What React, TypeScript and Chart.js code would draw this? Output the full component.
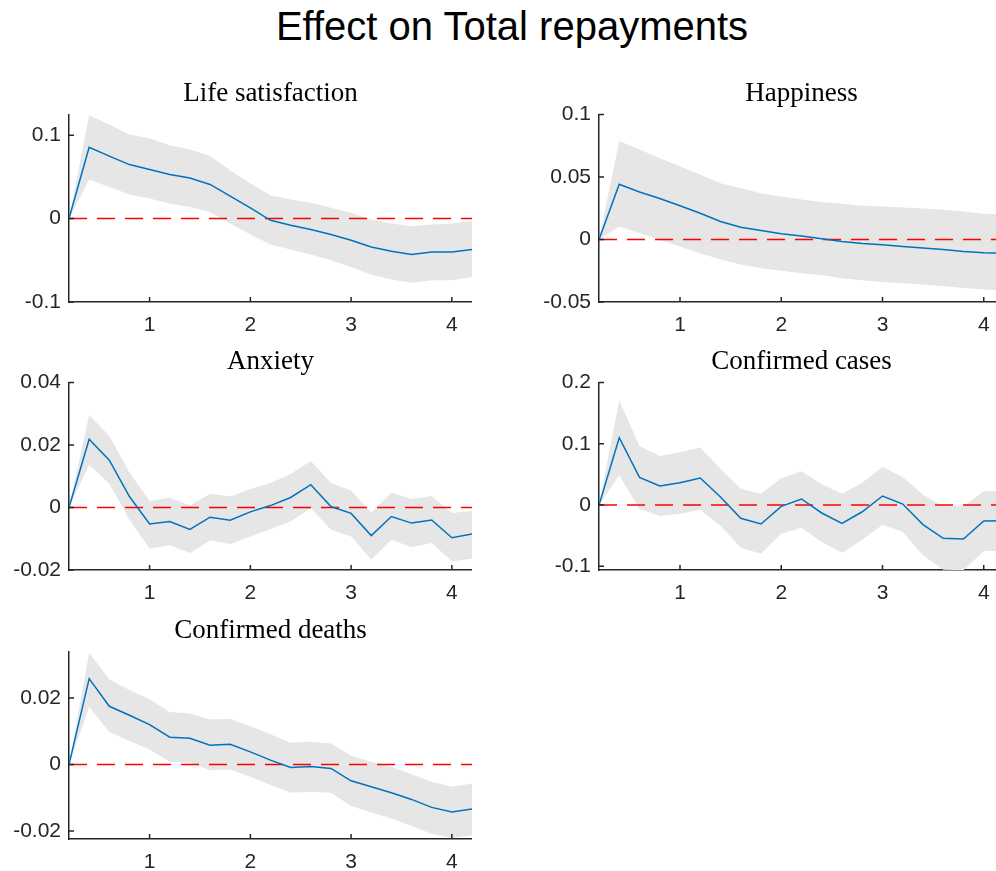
import React, { useEffect, useRef } from "react";
import { Chart, registerables } from "chart.js";

Chart.register(...registerables);

const FIG_TITLE = "Effect on Total repayments";

const periods = [0.2, 0.4, 0.6, 0.8, 1.0, 1.2, 1.4, 1.6, 1.8, 2.0, 2.2, 2.4, 2.6, 2.8, 3.0, 3.2, 3.4, 3.6, 3.8, 4.0, 4.2];
const xTicks = [1, 2, 3, 4];

const lifeSatIrf = [0, 0.0856, 0.075, 0.0648, 0.0588, 0.0528, 0.0488, 0.041, 0.027, 0.013, -0.002, -0.008, -0.013, -0.019, -0.026, -0.034, -0.039, -0.043, -0.040, -0.040, -0.037];
const lifeSatUpper = [0, 0.124, 0.113, 0.101, 0.096, 0.088, 0.083, 0.075, 0.058, 0.042, 0.028, 0.023, 0.019, 0.013, 0.007, -0.001, -0.006, -0.009, -0.007, -0.006, -0.003];
const lifeSatLower = [0, 0.047, 0.038, 0.029, 0.024, 0.018, 0.014, 0.008, -0.006, -0.019, -0.031, -0.037, -0.043, -0.050, -0.058, -0.067, -0.073, -0.077, -0.074, -0.074, -0.070];
const lifeSatTicks = [-0.1, 0, 0.1];

const happinessIrf = [0, 0.0441, 0.038, 0.0327, 0.0269, 0.021, 0.0144, 0.0098, 0.0072, 0.0045, 0.0027, 0.0005, -0.0016, -0.0032, -0.0043, -0.0056, -0.0069, -0.008, -0.0096, -0.0106, -0.011];
const happinessUpper = [0, 0.0787, 0.072, 0.065, 0.0585, 0.052, 0.045, 0.041, 0.037, 0.0343, 0.032, 0.030, 0.0285, 0.027, 0.0263, 0.0255, 0.0247, 0.0237, 0.0223, 0.0205, 0.02];
const happinessLower = [0, 0.0104, 0.005, -0.0003, -0.0056, -0.011, -0.016, -0.020, -0.023, -0.025, -0.027, -0.0287, -0.031, -0.0327, -0.034, -0.035, -0.036, -0.0375, -0.0388, -0.040, -0.041];
const happinessTicks = [-0.05, 0, 0.05, 0.1];

const anxietyIrf = [0, 0.0218, 0.0151, 0.0035, -0.0053, -0.0045, -0.007, -0.0031, -0.0041, -0.0014, 0.0006, 0.0032, 0.0073, 0.0003, -0.0019, -0.009, -0.0029, -0.005, -0.004, -0.0097, -0.0085];
const anxietyUpper = [0, 0.0296, 0.0229, 0.0112, 0.0021, 0.0031, 0.0007, 0.0044, 0.0035, 0.0059, 0.0078, 0.0107, 0.0149, 0.0078, 0.0054, -0.0016, 0.0047, 0.0027, 0.0037, -0.0018, -0.0011];
const anxietyLower = [0, 0.0137, 0.0076, -0.0039, -0.0131, -0.0121, -0.0146, -0.0106, -0.0117, -0.0093, -0.0069, -0.0045, -0.0002, -0.0071, -0.0093, -0.0167, -0.0103, -0.0127, -0.0114, -0.0172, -0.0164];
const anxietyTicks = [-0.02, 0, 0.02, 0.04];

const casesIrf = [0, 0.1098, 0.0451, 0.031, 0.0364, 0.044, 0.013, -0.0217, -0.031, -0.0022, 0.0098, -0.013, -0.030, -0.011, 0.0147, 0.0016, -0.032, -0.0543, -0.0554, -0.026, -0.0255];
const casesUpper = [0, 0.1707, 0.0957, 0.080, 0.0859, 0.094, 0.059, 0.0266, 0.0185, 0.0435, 0.055, 0.0337, 0.0185, 0.0364, 0.062, 0.0457, 0.0168, -0.0016, -0.0016, 0.0223, 0.0223];
const casesLower = [0, 0.0484, -0.0065, -0.018, -0.0141, -0.0076, -0.034, -0.0696, -0.0793, -0.0467, -0.037, -0.0603, -0.078, -0.0565, -0.032, -0.044, -0.082, -0.1054, -0.1065, -0.075, -0.075];
const casesTicks = [-0.1, 0, 0.1, 0.2];

const deathsIrf = [0, 0.0258, 0.0175, 0.0148, 0.012, 0.0082, 0.0079, 0.0058, 0.0061, 0.0038, 0.0013, -0.0009, -0.0006, -0.0012, -0.0049, -0.0067, -0.0085, -0.0105, -0.0129, -0.0143, -0.0134];
const deathsUpper = [0, 0.0336, 0.0256, 0.0224, 0.0196, 0.0158, 0.0153, 0.0135, 0.0137, 0.0115, 0.0091, 0.0065, 0.0068, 0.0063, 0.0026, 0.0008, -0.0007, -0.0029, -0.0052, -0.0067, -0.0057];
const deathsLower = [0, 0.0173, 0.0098, 0.0071, 0.0045, 0.0008, 0.0005, -0.0017, -0.0015, -0.0037, -0.0062, -0.0085, -0.0082, -0.0085, -0.0125, -0.0144, -0.0162, -0.0185, -0.0208, -0.0221, -0.0213];
const deathsTicks = [-0.02, 0, 0.02];

const AXIS_COLOR = "#262626";
const Y_W = 60;
const X_H = 40;
const TITLE_SIZE = 27;
const TITLE_PB = 4;

type Panel = {
  title: string;
  irf: number[];
  upper: number[];
  lower: number[];
  yMin: number;
  yMax: number;
  yTicks: number[];
  rect: [number, number, number, number];
};

const panels: Panel[] = [
  { title: "Life satisfaction", irf: lifeSatIrf, upper: lifeSatUpper, lower: lifeSatLower, yMin: -0.1, yMax: 0.125, yTicks: lifeSatTicks, rect: [69, 114.3, 472, 301.7] },
  { title: "Happiness", irf: happinessIrf, upper: happinessUpper, lower: happinessLower, yMin: -0.05, yMax: 0.1, yTicks: happinessTicks, rect: [599, 114.3, 1003.5, 301.7] },
  { title: "Anxiety", irf: anxietyIrf, upper: anxietyUpper, lower: anxietyLower, yMin: -0.02, yMax: 0.04, yTicks: anxietyTicks, rect: [69, 382.3, 472, 570] },
  { title: "Confirmed cases", irf: casesIrf, upper: casesUpper, lower: casesLower, yMin: -0.106, yMax: 0.2, yTicks: casesTicks, rect: [599, 382.3, 1003.5, 570] },
  { title: "Confirmed deaths", irf: deathsIrf, upper: deathsUpper, lower: deathsLower, yMin: -0.0224, yMax: 0.034, yTicks: deathsTicks, rect: [69, 651.7, 472, 838.7] },
];

const innerTicks = {
  id: "innerTicks",
  afterDraw(chart: any) {
    const { ctx, chartArea, scales } = chart;
    ctx.save();
    ctx.strokeStyle = AXIS_COLOR;
    ctx.lineWidth = 1.5;
    ctx.beginPath();
    scales.x.ticks.forEach((t: any) => {
      const px = scales.x.getPixelForValue(t.value);
      ctx.moveTo(px, chartArea.bottom);
      ctx.lineTo(px, chartArea.bottom - 5);
    });
    scales.y.ticks.forEach((t: any) => {
      const py = scales.y.getPixelForValue(t.value);
      ctx.moveTo(chartArea.left, py);
      ctx.lineTo(chartArea.left + 5, py);
    });
    ctx.stroke();
    ctx.restore();
  },
};

function PanelChart({ panel }: { panel: Panel }) {
  const ref = useRef<HTMLCanvasElement>(null);
  const titleH = TITLE_SIZE * 1.2 + TITLE_PB;
  const [pl, pt, pr, pb] = panel.rect;
  const left = Math.round(pl - Y_W);
  const top = Math.round(pt - titleH);
  const width = Math.round(pr) - left;
  const height = Math.round(pb + X_H) - top;

  useEffect(() => {
    if (!ref.current) return;
    const toPts = (arr: number[]) => periods.map((x, i) => ({ x, y: arr[i] }));
    const tickFont = { family: "'Liberation Sans', Arial, sans-serif", size: 21 };
    const chart = new Chart(ref.current, {
      type: "line",
      data: {
        datasets: [
          { data: toPts(panel.irf), borderColor: "#0072BD", borderWidth: 1.5, pointRadius: 0, fill: false, tension: 0 },
          {
            data: [{ x: periods[0], y: 0 }, { x: periods[periods.length - 1], y: 0 }],
            borderColor: "#ff0000",
            borderWidth: 1.5,
            borderDash: [18, 10],
            pointRadius: 0,
            fill: false,
          },
          { data: toPts(panel.upper), borderWidth: 0, borderColor: "rgba(0,0,0,0)", backgroundColor: "#e6e6e6", fill: "+1", pointRadius: 0 },
          { data: toPts(panel.lower), borderWidth: 0, borderColor: "rgba(0,0,0,0)", pointRadius: 0, fill: false },
        ],
      } as any,
      options: {
        responsive: false,
        animation: false,
        events: [],
        layout: { padding: 0 },
        scales: {
          x: {
            type: "linear",
            min: periods[0],
            max: periods[periods.length - 1],
            grid: { display: false, drawTicks: false },
            border: { display: true, color: AXIS_COLOR, width: 1.5 },
            ticks: { padding: 11, color: AXIS_COLOR, font: tickFont, maxRotation: 0, callback: (v: any) => String(v) },
            afterBuildTicks: (s: any) => { s.ticks = xTicks.map((v) => ({ value: v })); },
            afterFit: (s: any) => { s.height = X_H; },
          },
          y: {
            type: "linear",
            min: panel.yMin,
            max: panel.yMax,
            grid: { display: false, drawTicks: false },
            border: { display: true, color: AXIS_COLOR, width: 1.5 },
            ticks: { padding: 8, color: AXIS_COLOR, font: tickFont, callback: (v: any) => String(v) },
            afterBuildTicks: (s: any) => { s.ticks = panel.yTicks.map((v) => ({ value: v })); },
            afterFit: (s: any) => { s.width = Y_W; },
          },
        },
        plugins: {
          legend: { display: false },
          tooltip: { enabled: false },
          title: {
            display: true,
            text: panel.title,
            fullSize: false,
            color: "#000",
            font: { family: "'Liberation Serif', 'Times New Roman', serif", size: TITLE_SIZE, weight: "normal", lineHeight: 1.2 },
            padding: { top: 0, bottom: TITLE_PB },
          },
        },
      } as any,
      plugins: [innerTicks],
    });
    return () => chart.destroy();
  }, []);

  return (
    <canvas
      ref={ref}
      width={width}
      height={height}
      style={{ position: "absolute", left, top, width, height }}
    />
  );
}

export default function App() {
  return (
    <div style={{ position: "absolute", left: 0, top: 0, width: 996, height: 871, overflow: "hidden", background: "#fff" }}>
      <div
        style={{
          position: "absolute",
          left: 0,
          top: 6,
          width: 1024,
          textAlign: "center",
          font: "40px 'Liberation Sans', Arial, sans-serif",
          lineHeight: "40px",
          color: "#000",
          whiteSpace: "nowrap",
        }}
      >
        {FIG_TITLE}
      </div>
      {panels.map((p) => (
        <PanelChart key={p.title} panel={p} />
      ))}
    </div>
  );
}
